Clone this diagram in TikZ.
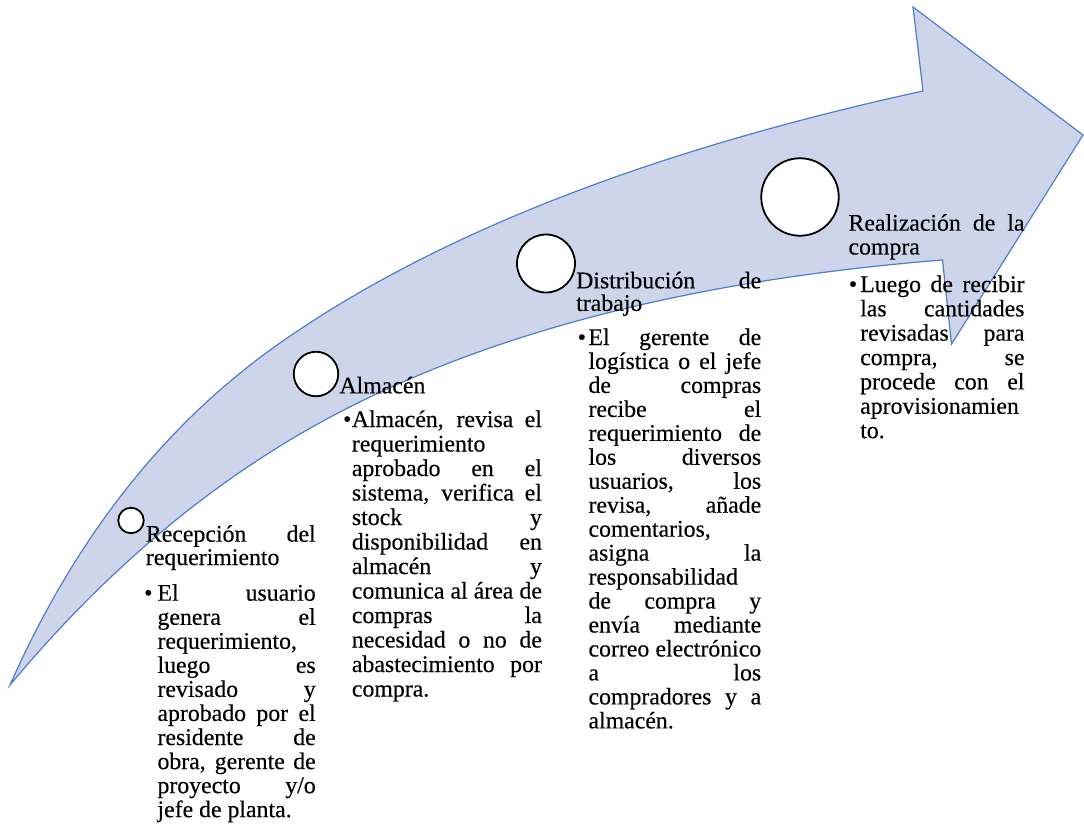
\documentclass[tikz,border=0pt]{standalone}
\usepackage{fontspec}
\setmainfont{Liberation Serif}[FakeBold=0.35]
\definecolor{arrowfill}{RGB}{206,213,234}
\definecolor{arrowline}{RGB}{80,126,200}
% one justified row, one left-aligned row
\newcommand\jrow[1]{\hbox to\hsize{#1}}
\newcommand\lrow[1]{\hbox to\hsize{#1\hfil}}
% a block of rows: width, line distance, rows
\newcommand\blk[3]{\vtop{\hsize=#1\baselineskip=#2\lineskiplimit=-50pt\lineskip=0pt #3}}
% hanging bullet in front of a row
\newcommand\bul[1]{\llap{\textbullet\kern#1}}
\begin{document}
\begin{tikzpicture}[x=1pt,y=-1pt,
  arrowbody/.style={fill=arrowfill, draw=arrowline, line width=1.2pt, line join=miter},
  marker/.style={circle, draw=black, fill=white, line width=1.8pt, inner sep=0pt},
  txt/.style={anchor=base west, inner sep=0pt, font=\fontsize{23.8pt}{24.1pt}\selectfont}]
\useasboundingbox (0,0) rectangle (1084,829);

% curved block arrow
\path[arrowbody]
  (10,685) .. controls (75.3,537.3) and (165.3,423.3) .. (280,343)
           .. controls (434,235) and (648.3,151) .. (923,91)
  -- (913,7) -- (1083,135) -- (951.5,344) -- (942.5,260)
  .. controls (698.1,279.5) and (497.3,330.2) .. (340,412)
  .. controls (219.4,474.7) and (109.4,565.7) .. (10,685)
  -- cycle;

% step markers
\node[marker, minimum size=25.5pt] (k1) at (131,520.5) {};
\node[marker, minimum size=44.5pt] (k2) at (316,374) {};
\node[marker, minimum size=58pt] (k3) at (546,263.5) {};
\node[marker, minimum size=77.5pt] (k4) at (800,197) {};

% step 1
\node[txt] (h1) at (145.7,541.7) {\blk{169.8pt}{23.3pt}{%
  \jrow{Recepción del}
  \lrow{requerimiento}}};
\node[txt] (b1) at (157.3,600.7) {\blk{158.2pt}{24.05pt}{%
  \jrow{\bul{5pt}El usuario}
  \jrow{genera el}
  \lrow{requerimiento,}
  \jrow{luego es}
  \jrow{revisado y}
  \jrow{aprobado por el}
  \jrow{residente de}
  \jrow{obra, gerente de}
  \jrow{proyecto y/o}
  \lrow{jefe de planta.}}};

% step 2
\node[txt] (h2) at (339.3,393.3) {Almacén};
\node[txt] (b2) at (351.7,427) {\blk{190pt}{24.5pt}{%
  \jrow{\bul{0.5pt}Almacén, revisa el}
  \lrow{requerimiento}
  \jrow{aprobado en el}
  \jrow{sistema, verifica el}
  \jrow{stock y}
  \jrow{disponibilidad en}
  \jrow{almacén y}
  \jrow{comunica al área de}
  \jrow{compras la}
  \jrow{necesidad o no de}
  \jrow{abastecimiento por}
  \lrow{compra.}}};

% step 3
\node[txt] (h3) at (576,288.3) {\blk{185pt}{22.6pt}{%
  \jrow{Distribución de}
  \lrow{trabajo}}};
\node[txt] (b3) at (588.3,345) {\blk{172.7pt}{23.96pt}{%
  \jrow{\bul{2.5pt}El gerente de}
  \jrow{logística o el jefe}
  \jrow{de compras}
  \jrow{recibe el}
  \jrow{requerimiento de}
  \jrow{los diversos}
  \jrow{usuarios, los}
  \jrow{revisa, añade}
  \lrow{comentarios,}
  \jrow{asigna la}
  \lrow{responsabilidad}
  \jrow{de compra y}
  \jrow{envía mediante}
  \jrow{correo electrónico}
  \jrow{a los}
  \jrow{compradores y a}
  \lrow{almacén.}}};

% step 4
\node[txt] (h4) at (848.3,230.7) {\blk{176pt}{23.8pt}{%
  \jrow{Realización de la}
  \lrow{compra}}};
\node[txt] (b4) at (860,292) {\blk{164.3pt}{24.35pt}{%
  \jrow{\bul{3pt}Luego de recibir}
  \jrow{las cantidades}
  \jrow{revisadas para}
  \jrow{compra, se}
  \jrow{procede con el}
  \lrow{aprovisionamien}
  \lrow{to.}}};
\end{tikzpicture}
\end{document}
